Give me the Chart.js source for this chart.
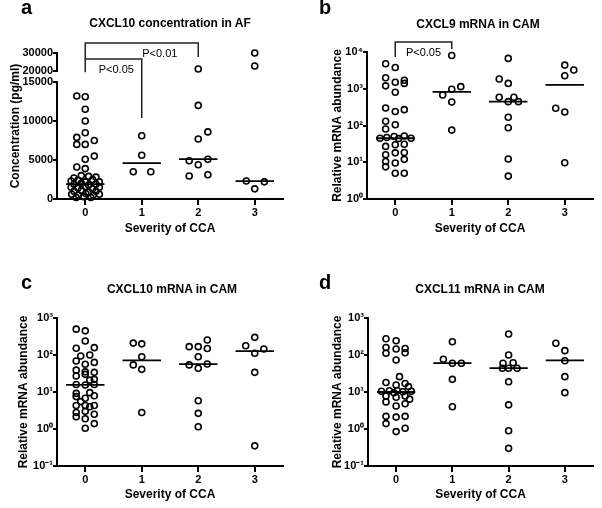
<!DOCTYPE html>
<html>
<head>
<meta charset="utf-8">
<script src="https://cdn.jsdelivr.net/npm/chart.js@4.4.1/dist/chart.umd.min.js"></script>
<style>
  body { margin: 0; background: #fff; }
  #fig { position: relative; width: 602px; height: 508px; background: #fff; color: #000;
         font-family: "Liberation Sans", Arial, sans-serif; overflow: hidden; }
  canvas { position: absolute; }
  .letter { position: absolute; font-weight: bold; font-size: 20px; line-height: 20px; }
  .title { position: absolute; font-weight: bold; font-size: 12px; line-height: 12px;
           transform: translateX(-50%); white-space: nowrap; }
</style>
</head>
<body>
<div id="fig">
  <canvas id="cA" width="301" height="250" style="left:0;top:0"></canvas>
  <canvas id="cB" width="301" height="250" style="left:301px;top:0"></canvas>
  <canvas id="cC" width="301" height="258" style="left:0;top:250px"></canvas>
  <canvas id="cD" width="301" height="258" style="left:301px;top:250px"></canvas>

  <div class="letter" style="left:21px;top:-3px">a</div>
  <div class="title" style="left:170px;top:17px">CXCL10 concentration in AF</div>
  <div class="letter" style="left:319px;top:-3px">b</div>
  <div class="title" style="left:478px;top:18px">CXCL9 mRNA in CAM</div>
  <div class="letter" style="left:21px;top:272px">c</div>
  <div class="title" style="left:172px;top:283px">CXCL10 mRNA in CAM</div>
  <div class="letter" style="left:319px;top:272px">d</div>
  <div class="title" style="left:480px;top:283px">CXCL11 mRNA in CAM</div>
</div>

<script>
'use strict';

// ── data ────────────────────────────────────────────────────────────────────
const severity = ['0', '1', '2', '3'];

// a: CXCL10 concentration in AF (pg/ml), broken y axis
const afTicks  = [0, 5000, 10000, 15000, 20000, 30000];
const afLabels = ['0', '5000', '10000', '15000', '20000', '30000'];
const afValues = [
  [13200, 13100, 11500, 10000, 8500, 7900, 7000, 7000, 7500, 5500, 5100, 4100, 3900,
   2700, 3000, 2900, 2800, 2300, 2400, 2200, 2500, 2200, 1900, 2000, 1800, 1900,
   1500, 1400, 1600, 1300, 1500, 1000, 1100, 900, 1000, 600, 500, 700, 500, 600, 200, 300, 200],
  [8100, 5600, 3500, 3500],
  [21100, 12000, 8600, 7700, 5100, 4900, 4400, 3100, 2950],
  [30000, 22800, 2300, 2200, 1300],
];
const afSpread = [
  [-0.15, 0, 0, 0, 0, -0.15, -0.15, 0, 0.16, 0.16, 0, -0.15, 0,
   -0.2, -0.07, 0.06, 0.19, -0.25, -0.13, 0, 0.13, 0.25, -0.2, -0.07, 0.06, 0.19,
   -0.25, -0.13, 0, 0.13, 0.25, -0.2, -0.07, 0.06, 0.19, -0.24, -0.12, 0.01, 0.14, 0.25, -0.16, -0.03, 0.1],
  [0, 0, -0.15, 0.16],
  [0, 0, 0.17, 0, 0.17, -0.16, 0, 0.17, -0.16],
  [0, 0, -0.15, 0.17, 0],
];
const afMedian = [1900, 4600, 5100, 2300];
const afBrackets = [
  { from: 0, to: 1, top: 26700, leftEnd: 19400, rightEnd: 10400, label: 'P<0.05', labelAt: 0.55 },
  { from: 0, to: 2, top: 35500, leftEnd: 26700, rightEnd: 27800, label: 'P<0.01', labelAt: 1.32 },
];

// b: CXCL9 mRNA in CAM
const log4Ticks  = [1, 10, 100, 1000, 10000];
const log4Labels = ['10⁰', '10¹', '10²', '10³', '10⁴'];
const cx9Values = [
  [4800, 3800, 2000, 1500, 1700, 1200, 1400, 800, 300, 240, 270, 130, 105, 80,
   45, 47, 50, 44, 52, 45,
   27, 16, 10.5, 7.5,
   30, 18, 9.5,
   31, 18.5, 12,
   5, 5],
  [8000, 1140, 970, 675, 435, 75],
  [6700, 1840, 1400, 585, 445, 585, 445, 167, 87, 12.3, 4.2],
  [4400, 3240, 2260, 294, 233, 9.7],
];
const cx9Spread = [
  [-0.17, 0, -0.17, 0, 0.16, -0.17, 0.16, 0, -0.17, 0, 0.16, -0.17, 0, -0.17,
   -0.27, -0.15, -0.02, 0.06, 0.16, 0.28,
   -0.17, -0.17, -0.17, -0.17,
   0, 0, 0,
   0.16, 0.16, 0.16,
   0, 0.16],
  [0, 0.16, 0, -0.16, 0, 0],
  [0, -0.16, 0, -0.16, 0, 0.1, 0.18, 0, 0, 0, 0],
  [0, 0.16, 0, -0.16, 0, 0],
];
const cx9Median = [45, 820, 445, 1280];
const cx9Brackets = [
  { from: 0, to: 1, top: 18700, leftEnd: 7300, rightEnd: 12100, label: 'P<0.05', labelAt: 0.5 },
];

// c: CXCL10 mRNA in CAM
const log3Ticks  = [0.1, 1, 10, 100, 1000];
const log3Labels = ['10⁻¹', '10⁰', '10¹', '10²', '10³'];
const cx10Values = [
  [500, 450, 240, 152, 158, 94, 100, 69, 56, 63, 39, 35, 34, 27, 30, 21, 22, 16, 15.5, 16,
   9.2, 9.6, 7.5, 5.5, 6.8, 7.9, 4.3, 4.3, 4.0, 4.3, 2.8, 3.0, 2.5, 2.15, 1.9, 1.4, 1.05],
  [210, 200, 90, 54, 41, 2.8],
  [254, 168, 168, 150, 90, 54, 44, 57, 5.8, 2.65, 1.15],
  [300, 178, 145, 111, 34, 0.35],
];
const cx10Spread = [
  [-0.16, 0, 0, -0.16, 0.16, -0.08, 0.08, -0.16, 0, 0.16, -0.16, 0, 0.16, -0.16, 0, 0.08, 0.16, -0.16, 0, 0.16,
   -0.16, 0.08, -0.16, -0.08, 0, 0.16, -0.16, 0, 0.08, 0.16, -0.16, 0, 0.16, -0.16, 0, 0.16, 0],
  [-0.15, 0, 0, -0.15, 0, 0],
  [0.16, -0.16, 0, 0.16, 0, -0.16, 0, 0.16, 0, 0, 0],
  [0, -0.16, 0.16, 0, 0, 0],
];
const cx10Median = [15.5, 72, 57, 128];

// d: CXCL11 mRNA in CAM
const cx11Values = [
  [275, 243, 160, 145, 150, 112, 115, 73, 26, 18, 15.5, 17, 14, 10.5, 10.8, 11, 10.2, 10.5, 9.5,
   7.8, 7.2, 7.8, 6.4, 5.4, 4.2, 4.8, 2.2, 2.1, 2.2, 1.4, 1.05, 0.85],
  [229, 77, 60, 60, 22, 4.0],
  [370, 100, 60, 62, 44, 44, 44, 19, 4.5, 0.9, 0.3],
  [207, 131, 70, 26, 9.6],
];
const cx11Spread = [
  [-0.18, 0, -0.18, 0, 0.16, -0.18, 0.16, 0, 0.06, -0.18, 0, 0.16, 0.22, -0.26, -0.12, 0.02, 0.12, 0.27, -0.04,
   -0.18, 0, 0.16, 0.24, -0.18, 0, 0.16, -0.18, 0, 0.16, -0.18, 0.16, 0],
  [0, -0.16, 0, 0.16, 0, 0],
  [0, 0, -0.1, 0.08, -0.11, 0, 0.15, 0, 0, 0, 0],
  [-0.16, 0, 0, 0, 0],
];
const cx11Median = [10, 60, 44, 72];

// ── style ───────────────────────────────────────────────────────────────────
const INK  = '#000';
const FONT = '"Liberation Sans", Arial, Helvetica, sans-serif';
const MED_HALF = 0.34;
const tickFont  = { family: FONT, size: 11, weight: 'bold' };
const titleFont = { family: FONT, size: 12, weight: 'bold' };

Chart.defaults.font.family = FONT;
Chart.defaults.color = INK;

// ── linear scale with a gap between breakLow and breakHigh ─────────────────
class BrokenScale extends Chart.LinearScale {
  toDecimal(v) {
    const { breakLow, breakHigh, lowShare, gapShare } = this.options;
    const highShare = 1 - lowShare - gapShare;
    if (v <= breakLow) return (v - this.min) / (breakLow - this.min) * lowShare;
    if (v < breakHigh) return lowShare + (v - breakLow) / (breakHigh - breakLow) * gapShare;
    return lowShare + gapShare + (v - breakHigh) / (this.max - breakHigh) * highShare;
  }
  getPixelForValue(v) {
    if (v === null || v === undefined || isNaN(v)) return NaN;
    return this.getPixelForDecimal(this.toDecimal(v));
  }
  getValueForPixel(p) {
    const d = this.getDecimalForPixel(p);
    const { breakLow, breakHigh, lowShare, gapShare } = this.options;
    if (d <= lowShare) return this.min + d / lowShare * (breakLow - this.min);
    if (d <= lowShare + gapShare) return breakLow + (d - lowShare) / gapShare * (breakHigh - breakLow);
    return breakHigh + (d - lowShare - gapShare) / (1 - lowShare - gapShare) * (this.max - breakHigh);
  }
}
BrokenScale.id = 'broken';
BrokenScale.defaults = {};
Chart.register(BrokenScale);

// ── helpers ─────────────────────────────────────────────────────────────────
function toPoints(values, spread) {
  return values.flatMap((col, i) => col.map((v, j) => ({ x: i + spread[i][j], y: v })));
}

function medianSets(medians) {
  return medians.map((m, i) => ({
    data: [{ x: i - MED_HALF, y: m }, { x: i + MED_HALF, y: m }],
    showLine: true, borderColor: INK, borderWidth: 1.8, pointRadius: 0, clip: false,
  }));
}

function bracketPlugin(items) {
  return {
    id: 'brackets',
    afterDatasetsDraw(chart) {
      const { ctx, scales: { x, y } } = chart;
      ctx.save();
      ctx.strokeStyle = '#222';
      ctx.lineWidth = 1.5;
      ctx.fillStyle = INK;
      ctx.font = `11px ${FONT}`;
      ctx.textAlign = 'center';
      ctx.textBaseline = 'middle';
      items.forEach(b => {
        const x1 = x.getPixelForValue(b.from);
        const x2 = x.getPixelForValue(b.to);
        const yt = y.getPixelForValue(b.top);
        ctx.beginPath();
        ctx.moveTo(x1, y.getPixelForValue(b.leftEnd));
        ctx.lineTo(x1, yt);
        ctx.lineTo(x2, yt);
        ctx.lineTo(x2, y.getPixelForValue(b.rightEnd));
        ctx.stroke();
        ctx.fillText(b.label, x.getPixelForValue(b.labelAt), yt + 11);
      });
      ctx.restore();
    },
  };
}

// y axis drawn in two pieces when the scale is broken
const brokenAxisPlugin = {
  id: 'brokenAxis',
  afterDraw(chart) {
    const y = chart.scales.y;
    if (y.type !== 'broken') return;
    const { ctx, chartArea } = chart;
    const x0 = chartArea.left;
    ctx.save();
    ctx.strokeStyle = INK;
    ctx.lineWidth = 2;
    ctx.beginPath();
    ctx.moveTo(x0, chartArea.bottom + 1);
    ctx.lineTo(x0, y.getPixelForValue(y.options.breakLow) - 1);
    ctx.moveTo(x0, y.getPixelForValue(y.options.breakHigh) + 1);
    ctx.lineTo(x0, chartArea.top - 1);
    ctx.stroke();
    ctx.restore();
  },
};

function makePanel(id, p) {
  const yScale = {
    type: p.yType, min: p.min, max: p.max,
    afterBuildTicks: s => { s.ticks = p.ticks.map(v => ({ value: v })); },
    afterFit: s => { s.width = p.yWidth; },
    ticks: { callback: (v, i) => p.tickLabels[i], font: tickFont, color: INK, padding: 0, autoSkip: false },
    grid: { drawOnChartArea: false, tickLength: 4, lineWidth: 2, color: INK },
    border: { display: p.yType !== 'broken', width: 2, color: INK },
    title: { display: true, text: p.yTitle, font: titleFont, color: INK, padding: { top: p.yTitlePad, bottom: 0 } },
  };
  if (p.yType === 'broken') Object.assign(yScale, p.breaks);

  return new Chart(document.getElementById(id), {
    type: 'scatter',
    data: {
      datasets: [
        ...medianSets(p.median),
        {
          data: toPoints(p.values, p.spread),
          pointRadius: 3, pointHoverRadius: 3, pointBorderWidth: 1.6,
          pointBorderColor: INK, pointBackgroundColor: 'rgba(255,255,255,0)', clip: false,
        },
      ],
    },
    options: {
      responsive: false, animation: false, events: [],
      layout: { padding: { top: p.top, right: p.right, left: 0, bottom: 0 } },
      plugins: { legend: { display: false }, tooltip: { enabled: false } },
      scales: {
        x: {
          type: 'linear', min: -0.5, max: 3.5,
          afterBuildTicks: s => { s.ticks = severity.map((_, i) => ({ value: i })); },
          afterFit: s => { s.height = p.xHeight; },
          ticks: { callback: v => severity[v], font: tickFont, color: INK, padding: 1, maxRotation: 0, autoSkip: false },
          grid: { drawOnChartArea: false, tickLength: 6, lineWidth: 2, color: INK },
          border: { width: 2, color: INK },
          title: { display: true, text: 'Severity of CCA', font: titleFont, color: INK, padding: { top: 0, bottom: p.xTitlePad } },
        },
        y: yScale,
      },
    },
    plugins: [bracketPlugin(p.brackets || []), brokenAxisPlugin],
  });
}

// ── panels ──────────────────────────────────────────────────────────────────
makePanel('cA', {
  values: afValues, spread: afSpread, median: afMedian, brackets: afBrackets,
  yType: 'broken', min: 0, max: 30000, ticks: afTicks, tickLabels: afLabels,
  breaks: { breakLow: 15000, breakHigh: 20000, lowShare: 117 / 146, gapShare: 11 / 146 },
  yTitle: 'Concentration (pg/ml)',
  top: 53, right: 18, yWidth: 57, xHeight: 51, yTitlePad: 8, xTitlePad: 14,
});

makePanel('cB', {
  values: cx9Values, spread: cx9Spread, median: cx9Median, brackets: cx9Brackets,
  yType: 'logarithmic', min: 1, max: 10000, ticks: log4Ticks, tickLabels: log4Labels,
  yTitle: 'Relative mRNA abundance',
  top: 52, right: 9, yWidth: 66, xHeight: 51, yTitlePad: 29, xTitlePad: 14,
});

makePanel('cC', {
  values: cx10Values, spread: cx10Spread, median: cx10Median,
  yType: 'logarithmic', min: 0.1, max: 1000, ticks: log3Ticks, tickLabels: log3Labels,
  yTitle: 'Relative mRNA abundance',
  top: 68, right: 18, yWidth: 57, xHeight: 42, yTitlePad: 16, xTitlePad: 6,
});

makePanel('cD', {
  values: cx11Values, spread: cx11Spread, median: cx11Median,
  yType: 'logarithmic', min: 0.1, max: 1000, ticks: log3Ticks, tickLabels: log3Labels,
  yTitle: 'Relative mRNA abundance',
  top: 68, right: 9, yWidth: 67, xHeight: 42, yTitlePad: 29, xTitlePad: 6,
});
</script>
</body>
</html>
